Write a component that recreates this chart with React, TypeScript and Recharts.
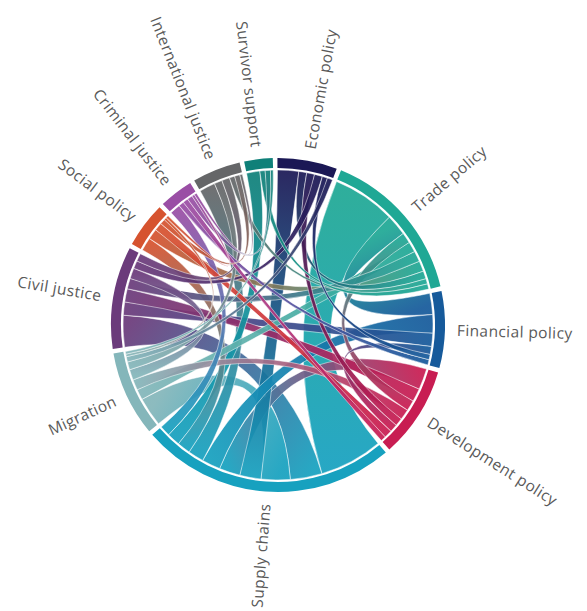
import React from 'react';
import { PieChart, Pie, Cell, Customized } from 'recharts';

// ---- data ----
const groups = [
  'Economic policy',
  'Trade policy',
  'Financial policy',
  'Development policy',
  'Supply chains',
  'Migration',
  'Civil justice',
  'Social policy',
  'Criminal justice',
  'International justice',
  'Survivor support',
];
const groupColors = [
  '#1b1855', '#1fa895', '#165a9b', '#c81d52', '#17a1bf', '#84b6ba',
  '#6b3b7b', '#d6532f', '#9a4ea5', '#656668', '#0f8079',
];

// links: from index, to index, value
const linkFrom = [1, 1, 1, 1, 1, 1, 1, 1, 1, 2, 2, 2, 2, 2, 3, 3, 3, 3, 3, 3, 0, 0, 0, 4, 4, 4, 4, 4, 4, 5, 5, 5, 6, 7, 7, 8, 8, 10];
const linkTo = [4, 2, 0, 7, 5, 3, 6, 9, 10, 4, 6, 8, 0, 3, 4, 0, 5, 6, 8, 7, 4, 6, 5, 6, 5, 10, 9, 8, 7, 6, 9, 7, 9, 9, 8, 9, 10, 5];
const linkValue = [24, 8, 3, 4, 4, 4, 4, 2, 2, 7, 5, 2, 2, 3, 8, 3, 4, 5, 2, 3, 8, 3, 2, 12, 11, 5, 6, 4, 5, 4, 3, 1, 3, 2, 1, 1, 2, 1];

// ---- geometry settings ----
const W = 587;
const H = 611;
const CX = 278;
const CY = 325;
const R_OUT = 167;
const R_IN = 157;
const R_RIB = 155;
const LABEL_R = 179;
const START = 90.2; // recharts degrees (ccw from 3 o'clock)
const PAD = 1.6;

const totals = groups.map((_, g) =>
  linkValue.reduce((s, v, j) => s + (linkFrom[j] === g || linkTo[j] === g ? v : 0), 0)
);
const pieData = groups.map((name, i) => ({ name, value: totals[i] }));

// same angle rule as the Pie (theta: clockwise degrees from 12 o'clock)
const grand = totals.reduce((a, b) => a + b, 0);
const realTotal = 360 - groups.length * PAD;
const unit = realTotal / grand;
const groupStart: number[] = [];
const groupEnd: number[] = [];
{
  let prev = 0;
  totals.forEach((t, i) => {
    const s = i === 0 ? 90 - START : prev + PAD;
    const e = s + t * unit;
    groupStart.push(s);
    groupEnd.push(e);
    prev = e;
  });
}

// sub-arcs per link end, sorted by value descending inside each group
const subFrom: [number, number][] = linkValue.map(() => [0, 0]);
const subTo: [number, number][] = linkValue.map(() => [0, 0]);
groups.forEach((_, g) => {
  const ends: { j: number; side: 'from' | 'to'; v: number; other: number }[] = [];
  linkValue.forEach((v, j) => {
    if (linkFrom[j] === g) ends.push({ j, side: 'from', v, other: linkTo[j] });
    if (linkTo[j] === g) ends.push({ j, side: 'to', v, other: linkFrom[j] });
  });
  ends.sort((a, b) => b.v - a.v || a.other - b.other);
  let a = groupStart[g];
  ends.forEach((e) => {
    const b = a + e.v * unit;
    if (e.side === 'from') subFrom[e.j] = [a, b];
    else subTo[e.j] = [a, b];
    a = b;
  });
});

const rad = (d: number) => (d * Math.PI) / 180;
const pt = (th: number, r: number) => [CX + r * Math.sin(rad(th)), CY - r * Math.cos(rad(th))];
const f = (p: number[]) => `${p[0].toFixed(2)} ${p[1].toFixed(2)}`;

function ribbonPath(s: [number, number], t: [number, number]) {
  const r = R_RIB;
  const ls = s[1] - s[0] > 180 ? 1 : 0;
  const lt = t[1] - t[0] > 180 ? 1 : 0;
  return (
    `M ${f(pt(s[0], r))} A ${r} ${r} 0 ${ls} 1 ${f(pt(s[1], r))} ` +
    `Q ${CX} ${CY} ${f(pt(t[0], r))} A ${r} ${r} 0 ${lt} 1 ${f(pt(t[1], r))} ` +
    `Q ${CX} ${CY} ${f(pt(s[0], r))} Z`
  );
}

const Ribbons = () => {
  const order = linkValue.map((_, j) => j).sort((a, b) => linkValue[b] - linkValue[a]);
  return (
    <g>
      <defs>
        {linkValue.map((_, j) => {
          const sm = (subFrom[j][0] + subFrom[j][1]) / 2;
          const tm = (subTo[j][0] + subTo[j][1]) / 2;
          const p1 = pt(sm, R_RIB);
          const p2 = pt(tm, R_RIB);
          return (
            <linearGradient
              key={j}
              id={`rg${j}`}
              gradientUnits="userSpaceOnUse"
              x1={p1[0]}
              y1={p1[1]}
              x2={p2[0]}
              y2={p2[1]}
            >
              <stop offset="0%" stopColor={groupColors[linkFrom[j]]} />
              <stop offset="100%" stopColor={groupColors[linkTo[j]]} />
            </linearGradient>
          );
        })}
      </defs>
      {order.map((j) => (
        <path
          key={j}
          d={ribbonPath(subFrom[j], subTo[j])}
          fill={`url(#rg${j})`}
          fillOpacity={0.93}
          stroke="#ffffff"
          strokeOpacity={0.7}
          strokeWidth={0.7}
        />
      ))}
    </g>
  );
};

const renderLabel = (props: any) => {
  const i = props.index;
  const th = (groupStart[i] + groupEnd[i]) / 2;
  const p = pt(th, LABEL_R);
  const right = th < 180;
  const rot = right ? th - 90 : th + 90;
  return (
    <text
      x={p[0]}
      y={p[1]}
      transform={`rotate(${rot} ${p[0]} ${p[1]})`}
      textAnchor={right ? 'start' : 'end'}
      dominantBaseline="central"
      fontFamily="'Open Sans', sans-serif"
      fontSize={15.5}
      letterSpacing={0.4}
      fill="#595959"
    >
      {groups[i]}
    </text>
  );
};

export default function App() {
  return (
    <div style={{ position: 'absolute', left: 0, top: 0, width: W, height: H, background: '#fff' }}>
      <PieChart width={W} height={H} margin={{ top: 0, right: 0, bottom: 0, left: 0 }}>
        <Pie
          data={pieData}
          dataKey="value"
          nameKey="name"
          cx={CX}
          cy={CY}
          innerRadius={R_IN}
          outerRadius={R_OUT}
          startAngle={START}
          endAngle={START - 360}
          paddingAngle={PAD}
          stroke="none"
          isAnimationActive={false}
          label={renderLabel}
          labelLine={false}
        >
          {pieData.map((d, i) => (
            <Cell key={d.name} fill={groupColors[i]} stroke="none" />
          ))}
        </Pie>
        <Customized component={Ribbons} />
      </PieChart>
    </div>
  );
}
